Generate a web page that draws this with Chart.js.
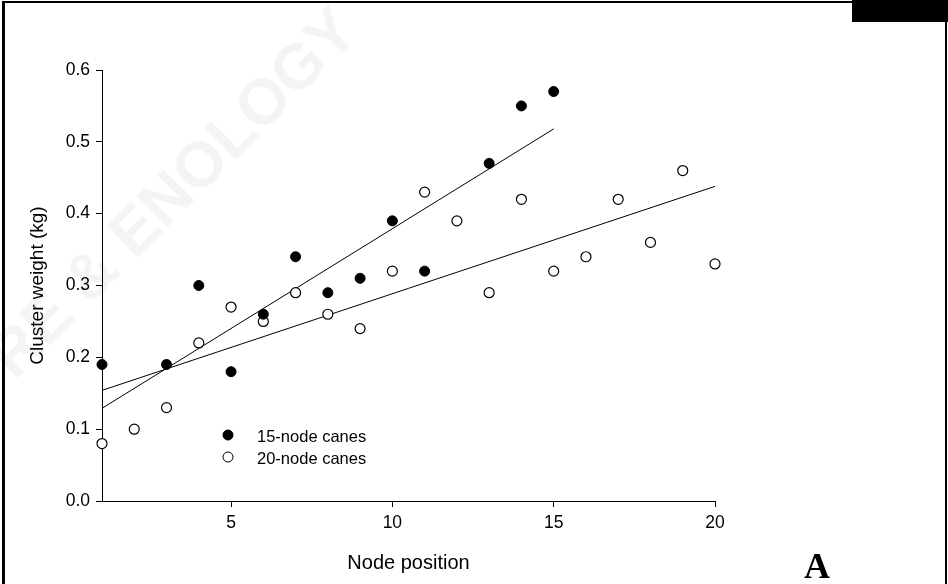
<!DOCTYPE html>
<html>
<head>
<meta charset="utf-8">
<script src="https://cdn.jsdelivr.net/npm/chart.js@4/dist/chart.umd.min.js"></script>
<style>
    html, body { margin: 0; padding: 0; background: #fff; }
    #wrap { width: 948px; height: 584px; position: relative; }
</style>
</head>
<body>
<div id="wrap"><canvas id="grafik" width="948" height="584"></canvas></div>
<script>
// Node positions and cluster weights (kg)
const nodes15 = [1, 3, 4, 5, 6, 7, 8, 9, 10, 11, 13, 14, 15];
const weights15 = [0.19, 0.19, 0.30, 0.18, 0.26, 0.34, 0.29, 0.31, 0.39, 0.32, 0.47, 0.55, 0.57];

const nodes20 = [1, 2, 3, 4, 5, 6, 7, 8, 9, 10, 11, 12, 13, 14, 15, 16, 17, 18, 19, 20];
const weights20 = [0.08, 0.10, 0.13, 0.22, 0.27, 0.25, 0.29, 0.26, 0.24, 0.32, 0.43, 0.39, 0.29, 0.42, 0.32, 0.34, 0.42, 0.36, 0.46, 0.33];

// regression line end points
const fitX15 = [1, 15];
const fitY15 = [0.129, 0.518];
const fitX20 = [1, 20];
const fitY20 = [0.154, 0.438];

const xTicks = [5, 10, 15, 20];
const yTicks = [0.0, 0.1, 0.2, 0.3, 0.4, 0.5, 0.6];

const seriesLabels = ["15-node canes", "20-node canes"];

const FONT = "'Liberation Sans', Arial, sans-serif";

function toPoints(xs, ys) {
    return xs.map((x, i) => ({ x: x, y: ys[i] }));
}

// Background, watermark, frame, legend and panel letter
const decorations = {
    id: "decorations",
    beforeDraw(chart) {
        const ctx = chart.ctx;
        ctx.save();
        ctx.fillStyle = "#fff";
        ctx.fillRect(0, 0, chart.width, chart.height);
        // faint watermark
        ctx.translate(175, 195);
        ctx.rotate(-Math.PI / 4);
        ctx.fillStyle = "rgba(0,0,0,0.045)";
        ctx.font = "bold 64px " + FONT;
        ctx.textAlign = "center";
        ctx.textBaseline = "middle";
        ctx.fillText("RE & ENOLOGY", 0, 0);
        ctx.restore();
    },
    afterDatasetsDraw(chart) {
        const ctx = chart.ctx;
        ctx.save();
        // legend inside the plot
        [2, 3].forEach((idx, i) => {
            const ds = chart.data.datasets[idx];
            const y = 435 + i * 22;
            ctx.beginPath();
            ctx.arc(228, y, 5, 0, Math.PI * 2);
            ctx.fillStyle = ds.backgroundColor;
            ctx.fill();
            ctx.lineWidth = 1;
            ctx.strokeStyle = "#000";
            ctx.stroke();
            ctx.fillStyle = "#000";
            ctx.font = "16.5px " + FONT;
            ctx.textAlign = "left";
            ctx.textBaseline = "middle";
            ctx.fillText(ds.label, 257, y + 2);
        });

        // panel letter
        ctx.font = "bold 36px 'Liberation Serif', 'Times New Roman', serif";
        ctx.textAlign = "center";
        ctx.textBaseline = "alphabetic";
        ctx.fillText("A", 817, 578);

        // frame and black bar top right
        ctx.fillStyle = "#000";
        ctx.fillRect(2, 1, 3, 583);
        ctx.fillRect(2, 1, 946, 2);
        ctx.fillRect(945, 1, 2, 583);
        ctx.fillRect(852, 0, 96, 22);
        ctx.restore();
    }
};

const ctx = document.getElementById("grafik").getContext("2d");

new Chart(ctx, {
    type: "scatter",
    data: {
        datasets: [
            {
                type: "line",
                label: "fit 15",
                data: toPoints(fitX15, fitY15),
                borderColor: "#000",
                borderWidth: 1,
                pointRadius: 0,
                fill: false,
                clip: false,
                order: 3
            },
            {
                type: "line",
                label: "fit 20",
                data: toPoints(fitX20, fitY20),
                borderColor: "#000",
                borderWidth: 1,
                pointRadius: 0,
                fill: false,
                clip: false,
                order: 3
            },
            {
                label: seriesLabels[0],
                data: toPoints(nodes15, weights15),
                backgroundColor: "#000",
                borderColor: "#000",
                borderWidth: 1,
                pointRadius: 5,
                clip: false,
                order: 1
            },
            {
                label: seriesLabels[1],
                data: toPoints(nodes20, weights20),
                backgroundColor: "#fff",
                borderColor: "#000",
                borderWidth: 1.2,
                pointRadius: 5,
                clip: false,
                order: 2
            }
        ]
    },
    options: {
        responsive: false,
        animation: false,
        events: [],
        layout: {
            padding: { left: 0, top: 70, right: 233, bottom: 0 }
        },
        plugins: {
            legend: { display: false },
            tooltip: { enabled: false }
        },
        scales: {
            x: {
                type: "linear",
                min: 1,
                max: 20,
                afterBuildTicks: (scale) => {
                    scale.ticks = xTicks.map((v) => ({ value: v }));
                },
                afterFit: (scale) => {
                    scale.height = 83;
                },
                grid: {
                    drawOnChartArea: false,
                    drawTicks: true,
                    tickLength: 6,
                    tickColor: "#000",
                    tickWidth: 1
                },
                border: { display: true, color: "#000", width: 1 },
                ticks: {
                    color: "#000",
                    padding: 6,
                    font: { family: FONT, size: 17.5 },
                    maxRotation: 0
                },
                title: {
                    display: true,
                    text: "Node position",
                    color: "#000",
                    font: { family: FONT, size: 20 },
                    padding: { top: 0, bottom: 9 }
                }
            },
            y: {
                type: "linear",
                min: 0,
                max: 0.6,
                afterBuildTicks: (scale) => {
                    scale.ticks = yTicks.map((v) => ({ value: v }));
                },
                afterFit: (scale) => {
                    scale.width = 102;
                },
                grid: {
                    drawOnChartArea: false,
                    drawTicks: true,
                    tickLength: 6,
                    tickColor: "#000",
                    tickWidth: 1
                },
                border: { display: true, color: "#000", width: 1 },
                ticks: {
                    color: "#000",
                    padding: 6,
                    font: { family: FONT, size: 17.5 },
                    callback: (value) => Number(value).toFixed(1)
                },
                title: {
                    display: true,
                    text: "Cluster weight (kg)",
                    color: "#000",
                    font: { family: FONT, size: 19 },
                    padding: { top: 26, bottom: 0 }
                }
            }
        }
    },
    plugins: [decorations]
});
</script>
</body>
</html>
